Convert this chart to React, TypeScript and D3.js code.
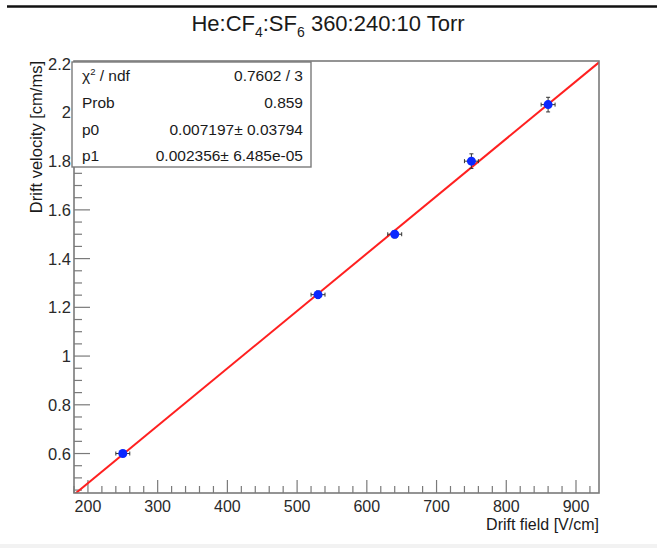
import React from "react";
import * as d3 from "d3";

const fieldValues = [250, 530, 640, 750, 860];
const velocityValues = [0.6, 1.252, 1.5, 1.8, 2.032];
const fieldErrors = [10, 10, 10, 10, 10];
const velocityErrors = [0.01, 0.015, 0.015, 0.03, 0.03];
const xTicks = [200, 300, 400, 500, 600, 700, 800, 900];
const yTicks = [0.6, 0.8, 1, 1.2, 1.4, 1.6, 1.8, 2, 2.2];
const fitP0 = 0.007197;
const fitP1 = 0.002356;
const statLabels = ["χ² / ndf", "Prob", "p0", "p1"];
const statValues = ["0.7602 / 3", "0.859", "0.007197± 0.03794", "0.002356± 6.485e-05"];

const W = 657, H = 548;
const L = 74, R = 599, T = 61, B = 493;
const FONT = "'Liberation Sans', Arial, Helvetica, sans-serif";

export default function App() {
  const x = d3.scaleLinear().domain([180, 933]).range([L, R]);
  const y = d3.scaleLinear().domain([0.438, 2.211]).range([B, T]);
  const xMinor = d3.range(180, 934, 20).filter((v) => v % 100 !== 0);
  const yMinor = d3.range(0.45, 2.21, 0.05).map((v) => +v.toFixed(2)).filter((v) => Math.abs(v * 5 - Math.round(v * 5)) > 1e-6);
  const fitX = [180, 933];
  const line = d3.line<number>().x((v) => x(v)).y((v) => y(fitP0 + fitP1 * v));
  const axisColor = "#7a7a7a";
  const fmt = (v: number) => String(+v.toFixed(1));
  const rowY = [75, 102, 129, 155];

  return (
    <svg width={W} height={H} style={{ position: "absolute", left: 0, top: 0, background: "#fff" }} fontFamily={FONT}>
      <defs>
        <clipPath id="frameClip">
          <rect x={L} y={T} width={R - L} height={B - T} />
        </clipPath>
      </defs>
      <rect x={0} y={0} width={W} height={H} fill="#fff" />
      <line x1={7} x2={W} y1={6.5} y2={6.5} stroke="#111" strokeWidth={2.5} />
      <rect x={0} y={544} width={W} height={4} fill="#f2f2f2" />

      {/* title */}
      <text x={328} y={31} textAnchor="middle" fontSize={22} fill="#1a1a1a">
        He:CF<tspan fontSize={14} dy={6}>4</tspan>
        <tspan dy={-6}>:SF</tspan>
        <tspan fontSize={14} dy={6}>6</tspan>
        <tspan dy={-6}> 360:240:10 Torr</tspan>
      </text>

      {/* x ticks */}
      {xTicks.map((v) => (
        <g key={"xt" + v}>
          <line x1={x(v)} x2={x(v)} y1={B} y2={B - 13} stroke={axisColor} strokeWidth={1.2} />
          <text x={x(v)} y={B + 19} textAnchor="middle" fontSize={16} fill="#2a2a2a">{v}</text>
        </g>
      ))}
      {xMinor.map((v) => (
        <line key={"xm" + v} x1={x(v)} x2={x(v)} y1={B} y2={B - 7} stroke={axisColor} strokeWidth={1.2} />
      ))}
      {/* y ticks */}
      {yTicks.map((v) => (
        <g key={"yt" + v}>
          <line x1={L} x2={L + 16} y1={y(v)} y2={y(v)} stroke={axisColor} strokeWidth={1.2} />
          <text x={L - 3} y={y(v) + 6} textAnchor="end" fontSize={16.5} fill="#2a2a2a">{fmt(v)}</text>
        </g>
      ))}
      {yMinor.map((v) => (
        <line key={"ym" + v} x1={L} x2={L + 8} y1={y(v)} y2={y(v)} stroke={axisColor} strokeWidth={1.2} />
      ))}

      {/* fit line */}
      <g clipPath="url(#frameClip)">
        <path d={line(fitX) || ""} stroke="#ff2020" strokeWidth={2} fill="none" />
      </g>

      {/* data */}
      {fieldValues.map((fv, i) => {
        const cx = x(fv), cy = y(velocityValues[i]);
        const x0 = x(fv - fieldErrors[i]), x1 = x(fv + fieldErrors[i]);
        const y0 = y(velocityValues[i] - velocityErrors[i]), y1 = y(velocityValues[i] + velocityErrors[i]);
        return (
          <g key={"p" + i} stroke="#333" strokeWidth={1}>
            <line x1={x0} x2={x1} y1={cy} y2={cy} />
            <line x1={x0} x2={x0} y1={cy - 2} y2={cy + 2} />
            <line x1={x1} x2={x1} y1={cy - 2} y2={cy + 2} />
            <line x1={cx} x2={cx} y1={y0} y2={y1} />
            <line x1={cx - 2} x2={cx + 2} y1={y0} y2={y0} />
            <line x1={cx - 2} x2={cx + 2} y1={y1} y2={y1} />
            <circle cx={cx} cy={cy} r={4.5} fill="#0a28ff" stroke="none" />
          </g>
        );
      })}

      {/* frame */}
      <rect x={L} y={T} width={R - L} height={B - T} fill="none" stroke={axisColor} strokeWidth={1.6} />

      {/* stats box */}
      <rect x={72} y={62} width={239} height={105} fill="#fff" stroke={axisColor} strokeWidth={1.4} />
      {statLabels.map((s, i) => (
        <g key={"s" + i}>
          <text x={82} y={rowY[i] + 5.5} fontSize={15.5} fill="#1a1a1a">
            {i === 0 ? (<>χ<tspan fontSize={9.5} dy={-6}>2</tspan><tspan dy={6}> / ndf</tspan></>) : s}
          </text>
          <text x={303} y={rowY[i] + 5.5} fontSize={15.5} fill="#1a1a1a" textAnchor="end">{statValues[i]}</text>
        </g>
      ))}

      {/* axis titles */}
      <text x={R} y={530} textAnchor="end" fontSize={16} fill="#1a1a1a">Drift field [V/cm]</text>
      <text transform={`translate(42, ${T}) rotate(-90)`} textAnchor="end" fontSize={16.5} fill="#1a1a1a">Drift velocity [cm/ms]</text>
    </svg>
  );
}
